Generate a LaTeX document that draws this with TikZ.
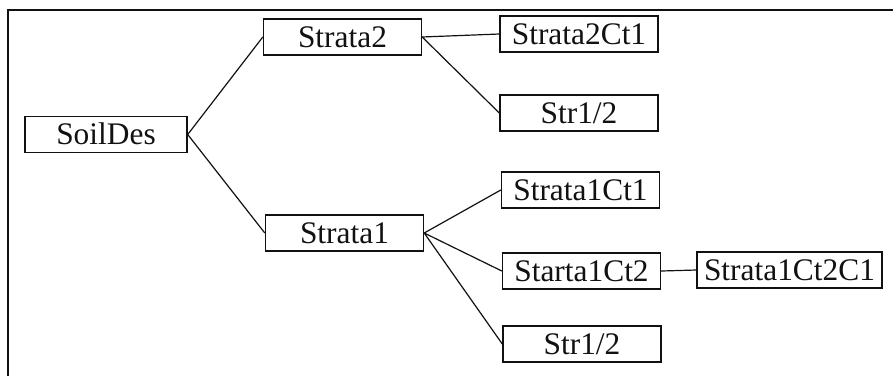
\documentclass[tikz,border=0pt]{standalone}
\usepackage{fontspec}
\setmainfont{Liberation Serif}
\usepackage{xcolor}
\usepackage{tikz}
\usetikzlibrary{calc}
\definecolor{ink}{HTML}{111111}
\tikzset{
  frameline/.style={draw=ink, line width=0.75pt},
  link/.style={draw=ink, line width=0.6pt},
  box/.style={draw=ink, line width=0.7pt, inner sep=0pt, minimum width=79pt,
    minimum height=18pt, text height=10.4pt, text depth=0pt,
    font=\fontsize{15.7}{18}\selectfont, text=ink},
  widebox/.style={box, minimum width=92.5pt}
}

\begin{document}
\begin{tikzpicture}[x=0.5pt, y=-0.5pt]
  \useasboundingbox (0,0) rectangle (893,376);

  % open frame, top and left only
  \coordinate (TL) at (8,10);
  \coordinate (TR) at (893,10);
  \coordinate (BL) at (8,376);
  \draw[frameline] (TR)--(TL)--(BL);

  \node[box, minimum width=81pt] (soil) at (106,134.5) {SoilDes};
  \node[box] (s2) at (342.5,37) {Strata2};
  \node[box] (s1) at (344.5,233) {Strata1};

  \node[box] (s2c1) at (579,34) {Strata2Ct1};
  \node[box] (s2h) at (579,113) {Str1/2};

  \node[box] (s1c1) at (580.5,190) {Strata1Ct1};
  \node[box] (s1c2) at (581.5,271) {Starta1Ct2};
  \node[widebox] (s1c2c1) at (789.5,270) {Strata1Ct2C1};
  \node[box] (s1h) at (582,344) {Str1/2};

  \draw[link] (soil.east)--(s2.west);
  \draw[link] (soil.east)--(s1.west);
  \draw[link] (s2.east)--(s2c1.west);
  \draw[link] (s2.east)--(s2h.west);
  \draw[link] (s1.east)--(s1c1.west);
  \draw[link] (s1.east)--(s1c2.west);
  \draw[link] (s1.east)--(s1h.west);
  \draw[link] (s1c2.east)--(s1c2c1.west);
\end{tikzpicture}
\end{document}
